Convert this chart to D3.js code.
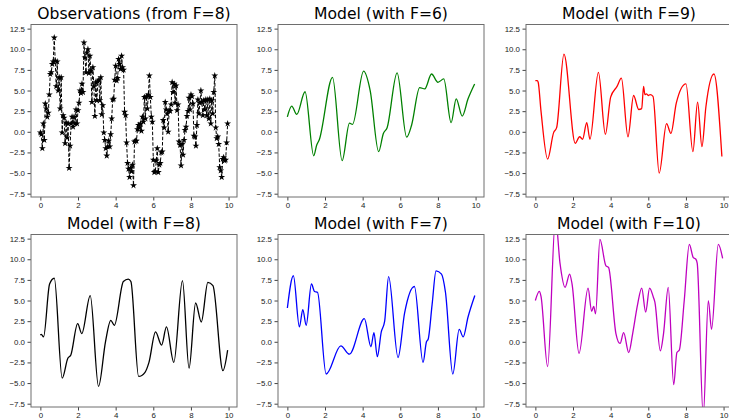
<!DOCTYPE html>
<html>
<head>
<meta charset="utf-8">
<title>Observations and models</title>
<script src="https://cdn.jsdelivr.net/npm/d3@7"></script>
<style>
  body { margin: 0; background: #fff; }
  svg { display: block; font-family: "DejaVu Sans", sans-serif; }
  .frame { fill: none; stroke: #6e6e6e; stroke-width: 1; }
  .tick text { fill: #222; font-size: 7.9px; }
  .tick line { stroke: #444; }
  .title { font-size: 15.6px; fill: #000; text-anchor: middle; }
</style>
</head>
<body>
<div id="chart"></div>
<script>
// observed values, one every time step from t=0 to t=9.95
const obsEnd = 9.95;
const obsValues = [-0.1, -0.3, -2.0, 1.0, -1.0, 3.4, 2.8, 1.8, 2.3, 4.5, 7.0, 7.2, 8.2, 8.5, 11.4, 8.6, 5.5, 8.5, 5.0, 6.6,
  2.8, 6.6, -0.1, 2.0, 1.7, -1.4, 1.1, -0.7, 1.0, -4.4, -1.7, 1.0, 1.8, 0.6, 1.8, 1.0, 2.7, 1.0, 2.6, 3.5,
  5.0, 4.7, 5.8, 4.8, 10.8, 9.0, 7.2, 9.6, 10.0, 7.1, 9.2, 7.4, 3.6, 7.8, 5.5, 1.9, 6.0, 3.8, 6.1, 6.3,
  3.8, 6.6, 2.1, 3.2, -0.1, -1.0, -2.0, -2.9, -1.8, -1.1, -1.8, -0.3, 1.6, 3.9, 4.0, 6.3, 8.0, 6.2, 6.5, 8.8,
  8.2, 7.6, 9.2, 7.8, 7.5, 2.4, 2.0, -1.3, -3.8, -4.5, -5.5, -4.4, -4.8, -4.0, -6.5, -1.2, -1.1, -1.1, 0.3, 0.8,
  0.5, 1.0, 0.1, 1.8, 1.2, 4.2, 1.6, 4.3, 2.8, 4.5, 6.8, 4.2, 1.8, 1.2, -3.4, -4.9, -4.8, -3.5, -2.0, -4.9,
  -4.0, -3.8, -2.5, -2.4, 1.4, 0.5, 3.6, 2.7, 2.2, 0.0, 2.6, 2.5, 3.3, 6.0, 4.8, 5.8, 3.5, 5.6, 2.6, 3.3,
  -1.2, -1.6, -4.1, -1.5, -2.8, -1.0, 0.2, 0.6, 1.9, 2.5, 4.1, 2.7, 4.5, 4.3, 3.4, -0.5, -0.6, -1.7, 0.8, 3.9,
  2.2, 3.5, 5.0, 3.6, 2.0, 3.8, 2.7, 3.9, 2.0, 3.9, 1.6, 4.0, 1.0, 3.8, 2.2, 4.8, 6.8, 0.5, -0.8, -0.6,
  -1.5, -4.3, -4.7, -5.5, -3.3, -3.1, -3.5, -3.4, -1.3, 1.0];

// model runs as [t, value] points
const modelF6 = [[0, 1.8], [0.23, 3.1], [0.5, 2.1], [0.94, 4.85], [1.4, -2.9], [1.56, -1.6], [1.69, -1.0], [2.4, 6.6],
  [2.91, -3.5], [3.3, 1.05], [3.46, 0.9], [4.05, 7.35], [4.4, 5.0], [4.85, -2.4], [5.1, -0.2], [5.3, 0.5], [5.83, 7.15],
  [6.34, -0.65], [6.6, 0.8], [7.03, 5.35], [7.3, 5.2], [7.66, 7.0], [8.0, 6.0], [8.31, 6.4], [8.7, 1.1], [8.97, 4.0],
  [9.29, 1.9], [9.6, 4.0], [9.95, 5.8]];
const modelF9 = [[0, 6.2], [0.1, 6.2], [0.15, 6.0], [0.3, 2.5], [0.65, -3.3], [0.97, -0.1], [1.13, 0.5], [1.52, 9.4],
  [2.12, -1.4], [2.35, -0.6], [2.51, -0.9], [2.73, 1.1], [2.9, -0.9], [3.35, 7.2], [3.72, -0.3], [4.0, 4.2], [4.34, 5.5],
  [4.57, 6.5], [4.92, -0.6], [5.22, 4.4], [5.49, 2.7], [5.65, 2.8], [5.75, 5.5], [5.82, 4.5], [5.9, 4.6], [6.0, 4.4],
  [6.1, 4.5], [6.25, 4.3], [6.58, -5.0], [6.97, 1.0], [7.2, -0.2], [7.49, 3.5], [8.0, 5.8], [8.37, -2.4], [8.62, 3.6],
  [8.85, -1.8], [9.06, 3.0], [9.49, 7.0], [9.91, -3.0]];
const modelF8 = [[0, 0.8], [0.05, 0.9], [0.17, 0.6], [0.49, 7.0], [0.74, 7.7], [1.16, -4.4], [1.46, -2.0], [1.62, -1.6],
  [1.98, 2.2], [2.2, 1.0], [2.65, 5.6], [3.09, -5.4], [3.46, 0.0], [3.74, 2.6], [3.93, 2.0], [4.41, 7.3], [4.67, 7.6],
  [4.81, 7.3], [5.22, -4.2], [5.56, -3.7], [5.77, -2.5], [6.12, 1.2], [6.44, -0.4], [6.7, 1.8], [7.09, -2.5], [7.55, 7.4],
  [7.9, -3.2], [8.25, 4.7], [8.55, 2.4], [8.9, 7.2], [9.17, 6.8], [9.7, -3.5], [9.95, -1.0]];
const modelF7 = [[0, 4.1], [0.32, 8.0], [0.64, 1.8], [0.82, 3.9], [1.0, 2.0], [1.28, 7.0], [1.44, 6.1], [1.6, 6.0],
  [2.06, -3.9], [2.84, -0.5], [3.3, -1.5], [4.09, 2.8], [4.44, -0.6], [4.6, 1.1], [4.78, -1.8], [4.99, 1.2], [5.17, 2.5],
  [5.38, 7.9], [5.88, -1.9], [6.23, 3.5], [6.75, 6.7], [7.21, -2.5], [7.39, 0.0], [7.48, 0.3], [7.69, 4.5], [7.9, 8.6],
  [8.19, 8.2], [8.4, 6.0], [8.79, -3.9], [9.13, 1.5], [9.34, 0.6], [9.6, 3.0], [9.96, 5.6]];
const modelF10 = [[0, 5.0], [0.21, 6.1], [0.3, 5.5], [0.65, -3.0], [1.07, 15.0], [1.31, 9.5], [1.58, 6.6], [1.82, 8.2],
  [1.95, 7.0], [2.32, -1.4], [2.8, 6.5], [2.99, 3.7], [3.1, 4.3], [3.2, 3.4], [3.43, 12.4], [3.75, 9.2], [3.89, 9.0],
  [4.28, 1.0], [4.5, -0.2], [4.69, 1.1], [4.96, -1.3], [5.17, 1.0], [5.43, 4.5], [5.65, 6.5], [5.86, 3.6], [6.07, 6.5],
  [6.27, 5.4], [6.35, 4.8], [6.64, -1.1], [6.81, 1.0], [7.06, 6.6], [7.35, -5.2], [7.52, -1.3], [7.65, -1.0], [7.91, 5.0],
  [8.18, 11.8], [8.39, 10.2], [8.53, 10.0], [8.6, 9.5], [8.92, -9.0], [9.19, 5.0], [9.36, 1.5], [9.72, 11.8], [9.95, 10.1]];

const titles = ["Observations (from F=8)", "Model (with F=6)", "Model (with F=9)",
  "Model (with F=8)", "Model (with F=7)", "Model (with F=10)"];
const xTicks = [0, 2, 4, 6, 8, 10];
const yTicks = [-7.5, -5.0, -2.5, 0.0, 2.5, 5.0, 7.5, 10.0, 12.5];

const width = 729, height = 420;
const colLeft = [31, 278, 526];
const rowTop = [24.5, 234.5];
const pw = 206, ph = 172.5;

const obs = obsValues.map((v, i) => [i * obsEnd / (obsValues.length - 1), v]);

const panels = [
  { data: obs, color: "#000", obs: true },
  { data: modelF6, color: "#008000" },
  { data: modelF9, color: "#ff0000" },
  { data: modelF8, color: "#000" },
  { data: modelF7, color: "#0000ff" },
  { data: modelF10, color: "#bf00bf" }
];

const svg = d3.select("#chart").append("svg")
  .attr("width", width)
  .attr("height", height);

const x = d3.scaleLinear().domain([-0.4975, 10.4475]).range([0, pw]);
const y = d3.scaleLinear().domain([-7.9, 13.0]).range([ph, 0]);

const line = d3.line()
  .x(d => x(d[0]))
  .y(d => y(d[1]));

panels.forEach((p, i) => {
  const col = i % 3, row = Math.floor(i / 3);
  const g = svg.append("g")
    .attr("transform", `translate(${colLeft[col]},${rowTop[row]})`);

  g.append("clipPath").attr("id", "clip" + i)
    .append("rect").attr("width", pw).attr("height", ph);

  const plot = g.append("g").attr("clip-path", `url(#clip${i})`);

  if (p.obs) {
    plot.append("path")
      .datum(p.data)
      .attr("d", line.curve(d3.curveLinear))
      .attr("fill", "none")
      .attr("stroke", p.color)
      .attr("stroke-width", 1)
      .attr("stroke-dasharray", "3.5,1.8");
    plot.selectAll("path.star")
      .data(p.data)
      .join("path")
      .attr("class", "star")
      .attr("transform", d => `translate(${x(d[0])},${y(d[1])})`)
      .attr("d", d3.symbol(d3.symbolStar, 15))
      .attr("fill", p.color);
  } else {
    plot.append("path")
      .datum(p.data)
      .attr("d", line.curve(d3.curveMonotoneX))
      .attr("fill", "none")
      .attr("stroke", p.color)
      .attr("stroke-width", 1.3);
  }

  g.append("g")
    .attr("transform", `translate(0,${ph})`)
    .call(d3.axisBottom(x).tickValues(xTicks).tickSize(3.5).tickPadding(2).tickFormat(d3.format("d")))
    .call(a => a.select(".domain").remove());

  g.append("g")
    .call(d3.axisLeft(y).tickValues(yTicks).tickSize(3.5).tickPadding(2.5).tickFormat(d3.format(".1f")))
    .call(a => a.select(".domain").remove());

  g.selectAll(".tick text").attr("font-family", null).attr("font-size", null);

  g.append("rect")
    .attr("class", "frame")
    .attr("width", pw)
    .attr("height", ph);

  g.append("text")
    .attr("class", "title")
    .attr("x", pw / 2)
    .attr("y", -5.5)
    .text(titles[i]);
});
</script>
</body>
</html>
